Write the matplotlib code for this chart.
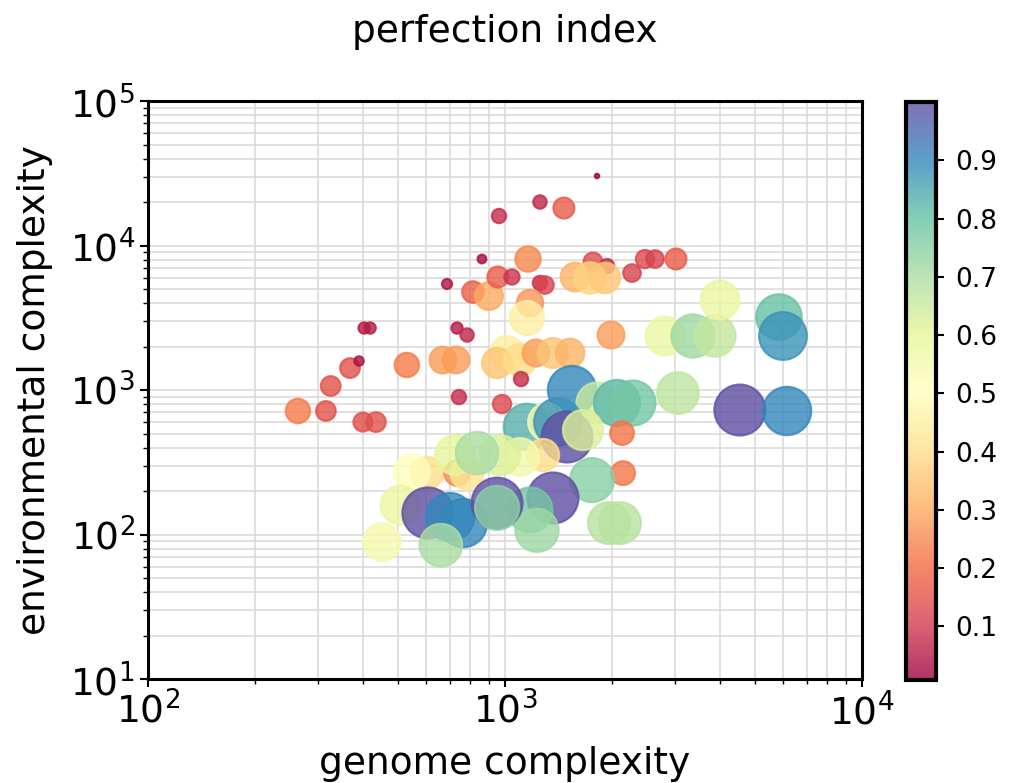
import numpy as np
import matplotlib
matplotlib.use("Agg")
import matplotlib.pyplot as plt

# genome complexity (x), environmental complexity (y), perfection index (colour + size)
genome = [263, 315, 325, 368, 390, 400, 435, 403, 419, 531,
          688, 734, 783, 743, 670, 729, 981, 813, 902, 955,
          1046, 962, 862, 1253, 1462, 1810, 1160, 1253, 1294, 1175,
          1152, 1982, 1764, 1931, 1571, 1730, 1905, 2269, 2467, 2632,
          3013, 1013, 950, 1102, 1221, 1363, 1521, 1109, 1541, 2806,
          3363, 3873, 4000, 5854, 6008, 3052, 1810, 2060, 2284, 2127,
          1152, 1311, 1408, 1492, 1654, 1278, 1102, 968, 2141, 1753,
          1363, 1175, 1229, 1956, 2099, 605, 549, 734, 783, 724,
          835, 508, 608, 701, 763, 661, 452, 950, 950, 4548, 6166]
environment = [716, 716, 1066, 1419, 1588, 600, 600, 2685, 2685, 1490,
               5416, 2685, 2403, 894, 1613, 1613, 800, 4766, 4473, 6053,
               6053, 16000, 8066, 20000, 18170, 30270, 8066, 5502, 5330, 4000,
               3150, 2403, 7690, 7210, 6053, 5960, 5960, 6450, 8066, 8066,
               8066, 1803, 1538, 1613, 1803, 1803, 1803, 1191, 1000, 2365,
               2365, 2365, 4196, 3200, 2365, 953, 813, 813, 813, 504,
               555, 600, 600, 473, 528, 355, 344, 355, 266, 238,
               179, 148, 107, 120, 120, 266, 271, 266, 266, 355,
               366, 160, 141, 132, 120, 84.5, 88.7, 165, 153, 727, 716]
perfection = [0.23, 0.15, 0.15, 0.15, 0.035, 0.14, 0.15, 0.05, 0.05, 0.23,
              0.04, 0.05, 0.07, 0.08, 0.28, 0.28, 0.13, 0.18, 0.30, 0.17,
              0.09, 0.08, 0.03, 0.07, 0.17, 0.008, 0.25, 0.08, 0.12, 0.27,
              0.45, 0.28, 0.14, 0.08, 0.32, 0.38, 0.36, 0.12, 0.13, 0.12,
              0.17, 0.45, 0.35, 0.40, 0.28, 0.35, 0.32, 0.08, 0.90, 0.58,
              0.72, 0.66, 0.58, 0.80, 0.88, 0.67, 0.65, 0.82, 0.78, 0.22,
              0.83, 0.55, 0.88, 1.0, 0.62, 0.40, 0.55, 0.62, 0.22, 0.75,
              1.0, 0.78, 0.72, 0.68, 0.68, 0.40, 0.50, 0.25, 0.42, 0.60,
              0.70, 0.58, 1.0, 0.90, 0.90, 0.70, 0.55, 1.0, 0.75, 1.0, 0.90]

perf = np.array(perfection)

fig = plt.figure(figsize=(10.11, 7.83), dpi=100)
ax = fig.add_axes([0.1464, 0.1328, 0.7062, 0.7382])
cax = fig.add_axes([0.8961, 0.1315, 0.0297, 0.738])

sc = ax.scatter(genome, environment, c=perf, s=1350 * perf, cmap='Spectral',
                alpha=0.8, linewidths=1.5, zorder=3)

ax.set_xscale('log')
ax.set_yscale('log')
ax.set_xlim(1e2, 1e4)
ax.set_ylim(1e1, 1e5)
ax.grid(True, which='both', color='#dcdcdc', linewidth=1.2, zorder=0)
ax.set_axisbelow(True)

for sp in ax.spines.values():
    sp.set_linewidth(2.2)
ax.tick_params(which='major', labelsize=27, length=6, width=1.5)
ax.tick_params(which='minor', length=3.5, width=1)
ax.set_xlabel('genome complexity', fontsize=27, labelpad=10)
ax.set_ylabel('environmental complexity', fontsize=27, labelpad=12)

cb = fig.colorbar(sc, cax=cax)
cb.set_ticks([0.1, 0.2, 0.3, 0.4, 0.5, 0.6, 0.7, 0.8, 0.9])
cb.outline.set_linewidth(3)
cax.tick_params(labelsize=19, length=6, width=1.5, pad=8)

fig.text(505 / 1011, 1 - 32 / 783, 'perfection index', fontsize=27,
         ha='center', va='center')

plt.savefig('out.png', dpi=100)
